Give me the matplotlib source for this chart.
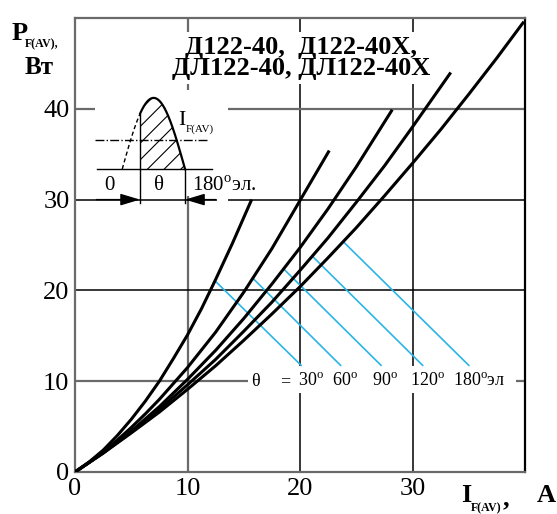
"""
Power loss vs average forward current for diodes D122-40 / DL122-40.
"""
import numpy as np
import matplotlib
matplotlib.use('Agg')
import matplotlib.pyplot as plt
from matplotlib.patches import Rectangle

plt.rcParams['font.family'] = ['Liberation Serif', 'DejaVu Serif']
plt.rcParams['mathtext.fontset'] = 'custom'
plt.rcParams['mathtext.rm'] = 'Liberation Serif'
plt.rcParams['hatch.linewidth'] = 0.8

# curves: average current (A) -> power loss (W)
i_30 = [0, 1.25, 2.5, 3.75, 5, 6.25, 7.5, 8.75, 10, 11.25, 12.5, 14, 15.7]
p_30 = [0, 1.1, 2.4, 4.0, 5.8, 7.8, 10.0, 12.5, 15.1, 18.0, 21.2, 25.2, 30.0]

i_60 = [0, 1.25, 2.5, 3.75, 5, 6.25, 7.5, 10, 12.5, 15, 17.5, 20, 22.6]
p_60 = [0, 1.05, 2.2, 3.5, 4.9, 6.4, 8.0, 11.5, 15.4, 19.8, 24.6, 29.9, 35.4]

i_90 = [0, 2.5, 5, 7.5, 10, 12.5, 15, 17.5, 20, 22.5, 25, 28.2]
p_90 = [0, 2.1, 4.5, 7.2, 10.2, 13.4, 16.9, 20.7, 24.7, 29.0, 33.6, 39.9]

i_120 = [0, 2.5, 5, 7.5, 10, 12.5, 15, 17.5, 20, 22.5, 25, 27.5, 30, 33.4]
p_120 = [0, 2.1, 4.4, 6.9, 9.6, 12.4, 15.5, 18.7, 22.2, 25.8, 29.7, 33.7, 38.0, 44.0]

i_180 = [0, 2.5, 5, 7.5, 10, 12.5, 15, 17.5, 20, 22.5, 25, 27.5, 30, 32.5, 35, 37.5, 39.9]
p_180 = [0, 2.07, 4.3, 6.6, 9.1, 11.7, 14.5, 17.4, 20.4, 23.6, 26.9, 30.4, 34.0, 37.7, 41.6, 45.6, 49.6]

angles = ['30', '60', '90', '120', '180']
# leader lines: start on the curve, end above the label
lead_i0 = [12.57, 15.8, 18.6, 21.15, 23.9]
lead_p0 = [20.9, 21.35, 22.3, 23.7, 25.3]
lead_i1 = [20.1, 23.6, 27.2, 30.9, 35.0]
lead_p1 = 11.75
# where each angle label starts
label_i = [19.8, 22.8, 26.4, 29.8, 33.6]

x_ticks = [0, 10, 20, 30]
y_ticks = [0, 10, 20, 30, 40]

W, H = 557, 514
fig = plt.figure(figsize=(W / 100, H / 100), dpi=100)
ax = fig.add_axes([75 / W, 1 - 472 / H, 450 / W, 454 / H])
ax.set_xlim(0, 40)
ax.set_ylim(0, 50)

# grid, drawn by hand (some lines grey and heavy, some black and thin)
grey = dict(color='#6a6a6a', lw=1.6, zorder=1)
black = dict(color='black', lw=1.1, zorder=1)
ax.axvline(10, **grey)
ax.axvline(20, **black)
ax.axvline(30, **black)
ax.axhline(10, **grey)
ax.axhline(20, **black)
ax.axhline(30, **black)
ax.axhline(40, **grey)
for side in ['left', 'bottom', 'top']:
    ax.spines[side].set_color('#6a6a6a')
    ax.spines[side].set_linewidth(1.6)
ax.spines['right'].set_color('black')
ax.spines['right'].set_linewidth(1.6)

ax.set_xticks(x_ticks)
ax.set_yticks(y_ticks)
ax.tick_params(length=0, labelsize=19, pad=4)

for xs, ys in [(i_30, p_30), (i_60, p_60), (i_90, p_90), (i_120, p_120), (i_180, p_180)]:
    ax.plot(xs, ys, color='black', lw=2.2, solid_capstyle='butt', solid_joinstyle='round', zorder=4)

cyan = '#2bb5e6'
for x0, y0, x1 in zip(lead_i0, lead_p0, lead_i1):
    ax.plot([x0, x1], [y0, lead_p1], color=cyan, lw=1.2, zorder=3)

# angle labels on a white strip
ax.add_patch(Rectangle((15.4, 8.7), 23.8, 3.0, facecolor='white', edgecolor='none', zorder=2))
ax.text(16.0, 10, 'θ', fontsize=13, ha='center', va='center', zorder=5)
ax.text(18.7, 10, '=', fontsize=13, ha='center', va='center', zorder=5)
for a, x in zip(angles, label_i):
    tail = 'эл' if a == '180' else ''
    ax.text(x, 10, a + r'$^{\rm o}$' + tail, fontsize=13, ha='left', va='center', zorder=5)

# title block
ax.text(20.1, 45.6, 'Д122-40,  Д122-40Х,\nДЛ122-40, ДЛ122-40Х', fontsize=19,
        fontweight='bold', ha='center', va='center', linespacing=0.85, zorder=5,
        bbox=dict(facecolor='white', edgecolor='none', pad=3))

# inset: conduction angle sketch
ax.add_patch(Rectangle((1.78, 30.45), 11.8, 11.6, facecolor='white', edgecolor='none', zorder=2))
ax.add_patch(Rectangle((12.6, 29.5), 1.0, 1.0, facecolor='white', edgecolor='none', zorder=2))
s0, s1 = 4.2, 9.78
base, top = 33.37, 41.2
cut = 5.78
t = np.linspace(s0, s1, 200)
wave = base + (top - base) * np.sin(np.pi * (t - s0) / (s1 - s0))
left = t <= cut
ax.plot(t[left], wave[left], color='black', lw=1.0, ls=(0, (3, 2)), zorder=5)
ax.plot(t[~left], wave[~left], color='black', lw=1.6, zorder=5)
ax.fill_between(t[t >= cut], base, wave[t >= cut], facecolor='none', edgecolor='black',
                hatch='//', linewidth=0, zorder=4)
ax.plot([1.96, 12.2], [base, base], color='black', lw=1.0, zorder=5)
ax.plot([1.78, 11.8], [36.56, 36.56], color='black', lw=1.0, ls='-.', zorder=5)
cut_top = base + (top - base) * np.sin(np.pi * (cut - s0) / (s1 - s0))
ax.plot([cut, cut], [29.6, cut_top], color='black', lw=1.0, zorder=5)
ax.plot([s1, s1], [29.6, base], color='black', lw=1.0, zorder=5)
arrow = dict(arrowstyle='-|>,head_length=0.6,head_width=0.18', color='black', lw=1.0,
             mutation_scale=20, shrinkA=0, shrinkB=0)
ax.annotate('', xy=(cut, 30), xytext=(1.9, 30), arrowprops=arrow, zorder=5)
ax.annotate('', xy=(s1, 30), xytext=(12.5, 30), arrowprops=arrow, zorder=5)
ax.text(3.1, 31.5, '0', fontsize=15, ha='center', va='center', zorder=5)
ax.text(7.5, 31.5, 'θ', fontsize=15, ha='center', va='center', zorder=5)
ax.text(10.4, 31.5, r'180$^{\rm o}$эл.', fontsize=15, ha='left', va='center', zorder=5)
ax.text(9.2, 38.7, 'I', fontsize=16, ha='left', va='center', zorder=5)
ax.text(9.85, 37.8, 'F(AV)', fontsize=8, ha='left', va='center', zorder=5)

# axis titles
def px(x, y):
    return x / W, 1 - y / H

fig.text(*px(12, 33), 'P', fontsize=19, fontweight='bold', ha='left', va='center')
fig.text(*px(25, 44), 'F(AV),', fontsize=8.5, fontweight='bold', ha='left', va='center')
fig.text(*px(39, 67), 'Вт', fontsize=18, fontweight='bold', ha='center', va='center')
fig.text(*px(461, 496), 'I', fontsize=19, fontweight='bold', ha='left', va='center')
fig.text(*px(471, 508), 'F(AV)', fontsize=8.5, fontweight='bold', ha='left', va='center')
fig.text(*px(503, 499), ',', fontsize=19, fontweight='bold', ha='left', va='center')
fig.text(*px(546, 496), 'A', fontsize=19, fontweight='bold', ha='center', va='center')

fig.savefig('out.png', dpi=100)
